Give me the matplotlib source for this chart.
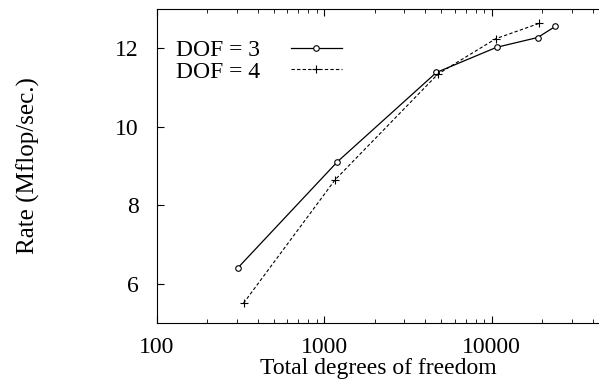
import numpy as np
import matplotlib.pyplot as plt

# data
dof3_n = [303, 1197, 4667, 10670, 18800, 23900]
dof3_rate = [6.40, 9.11, 11.38, 12.02, 12.27, 12.55]
dof4_n = [329, 1159, 4766, 10570, 19200]
dof4_rate = [5.51, 8.65, 11.34, 12.24, 12.63]

plt.rcParams['font.family'] = ['Liberation Serif', 'DejaVu Serif']

fig = plt.figure(figsize=(5.99, 3.83), dpi=100)
ax = fig.add_axes([0.262, 0.156, 0.740, 0.821])

ax.plot(dof3_n, dof3_rate, color='black', lw=0.9, marker='o', ms=4,
        mfc='white', mec='black', mew=0.8, label='DOF = 3')
ax.plot(dof4_n, dof4_rate, color='black', lw=0.8, ls=(0, (3, 2)), marker='+',
        ms=6, mew=0.8, label='DOF = 4')

ax.set_xscale('log')
ax.set_xlim(100, 44400)
ax.set_ylim(5, 13)
ax.set_yticks([6, 8, 10, 12])
ax.set_xticks([100, 1000, 10000])
ax.set_xticklabels(['100', '1000', '10000'])
ax.tick_params(direction='in', labelsize=17, top=True, which='both')
ax.tick_params(axis='y', pad=13)
ax.tick_params(axis='x', pad=10)
ax.tick_params(which='major', length=5)
ax.tick_params(which='minor', length=3)
ax.spines['right'].set_visible(False)

ax.set_xlabel('Total degrees of freedom', fontsize=17, labelpad=0)
ax.set_ylabel('Rate (Mflop/sec.)', fontsize=18, labelpad=54)

ax.legend(loc='upper left', frameon=False, markerfirst=False, fontsize=17,
          handlelength=2.2, handletextpad=1.3, borderaxespad=0.3,
          labelspacing=0.0, bbox_to_anchor=(0.005, 0.955))

fig.savefig('out.png', dpi=100)
